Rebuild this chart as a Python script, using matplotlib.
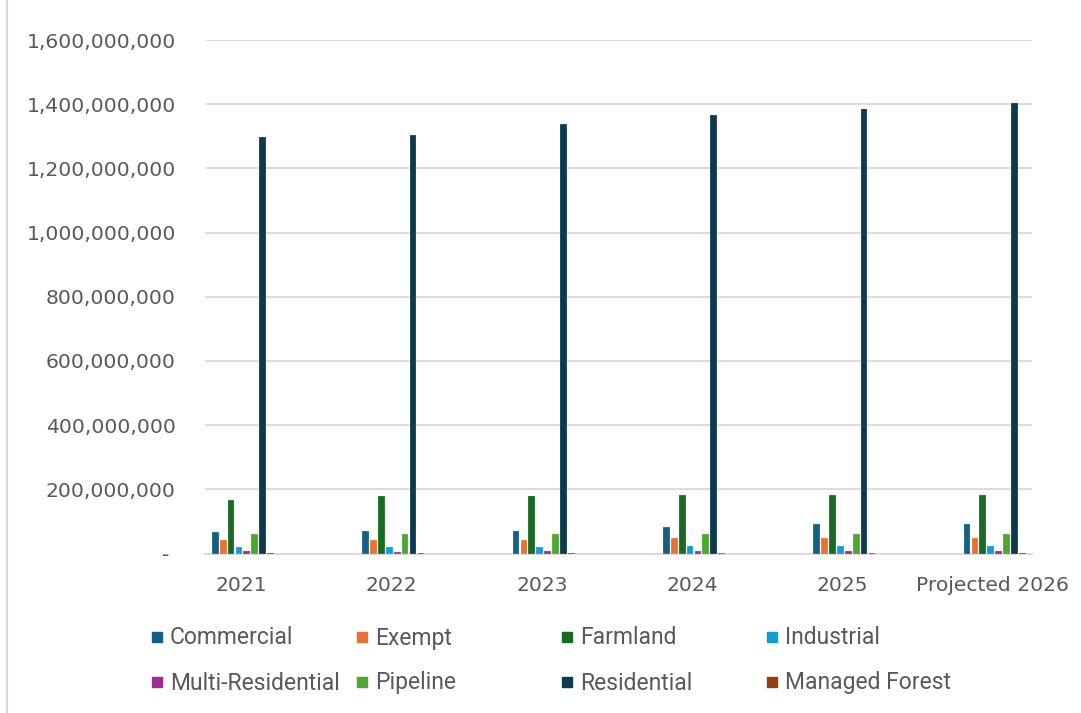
import numpy as np
import matplotlib.pyplot as plt
from matplotlib.patches import Rectangle
from matplotlib.ticker import FuncFormatter

# Assessment values by property class
years = ["2021", "2022", "2023", "2024", "2025", "Projected 2026"]
classes = ["Commercial", "Exempt", "Farmland", "Industrial",
           "Multi-Residential", "Pipeline", "Residential", "Managed Forest"]

commercial = [68e6, 69e6, 70e6, 84e6, 91e6, 93e6]
exempt = [41e6, 41e6, 41e6, 47e6, 48e6, 48e6]
farmland = [167e6, 178e6, 179e6, 182e6, 182e6, 182e6]
industrial = [20e6, 20e6, 20e6, 22e6, 22e6, 22e6]
multi_residential = [7e6, 6e6, 8e6, 8e6, 8e6, 8e6]
pipeline = [60e6, 60e6, 60e6, 60e6, 60e6, 61e6]
residential = [1297e6, 1304e6, 1337e6, 1366e6, 1384e6, 1403e6]
managed_forest = [0.5e6, 0.5e6, 0.5e6, 0.5e6, 0.5e6, 0.5e6]

series = [commercial, exempt, farmland, industrial,
          multi_residential, pipeline, residential, managed_forest]
colors = ["#156082", "#E97132", "#196B24", "#0F9ED5",
          "#A02B93", "#4EA72E", "#0D3A4E", "#94400F"]

text_color = "#595959"
grid_color = "#D9D9D9"

W, H = 1081, 713
fig = plt.figure(figsize=(W / 100, H / 100), dpi=100)
ax = fig.add_axes([205 / W, 1 - 553.5 / H, (1032 - 205) / W, (553.5 - 40) / H])

x = np.arange(len(years))
slot = 0.0525
width = 0.045
for k, (vals, col) in enumerate(zip(series, colors)):
    ax.bar(x + (k - 3.5) * slot + 0.012, vals, width=width, color=col,
           edgecolor="#ffffff80", linewidth=0.3, zorder=3)

ax.set_xlim(-0.24, 5.26)
ax.set_ylim(0, 1.6e9)
ax.set_yticks(np.arange(0, 1.6e9 + 1, 2e8))
ax.yaxis.set_major_formatter(FuncFormatter(lambda v, p: "- " if v == 0 else f"{v:,.0f}"))
ax.set_xticks(x)
ax.set_xticklabels(years)

ax.grid(axis="y", color=grid_color, linewidth=1.3, zorder=0)
for s in ["top", "right", "left"]:
    ax.spines[s].set_visible(False)
ax.spines["bottom"].set_color(grid_color)
ax.spines["bottom"].set_linewidth(1.3)
ax.tick_params(axis="both", length=0, colors=text_color, labelsize=14.6)
ax.tick_params(axis="y", pad=21)
ax.tick_params(axis="x", pad=16)

# legend laid out on an even grid, 4 columns x 2 rows
for i, (name, col) in enumerate(zip(classes, colors)):
    row, colm = divmod(i, 4)
    cx = 157 + 205 * colm
    cy = 637 + 45 * row
    fig.patches.append(Rectangle(((cx - 5) / W, 1 - (cy + 5) / H), 10 / W, 10 / H,
                                 transform=fig.transFigure, color=col))
    fig.text((cx + 13) / W, 1 - (cy + 1) / H, name, fontsize=16.5, family="Roboto",
             color=text_color, va="center", ha="left")

# chart area edge
fig.add_artist(plt.Line2D([7 / W, 7 / W], [0, 1], transform=fig.transFigure,
                          color=grid_color, linewidth=1.5))

fig.savefig("out.png", dpi=100)
